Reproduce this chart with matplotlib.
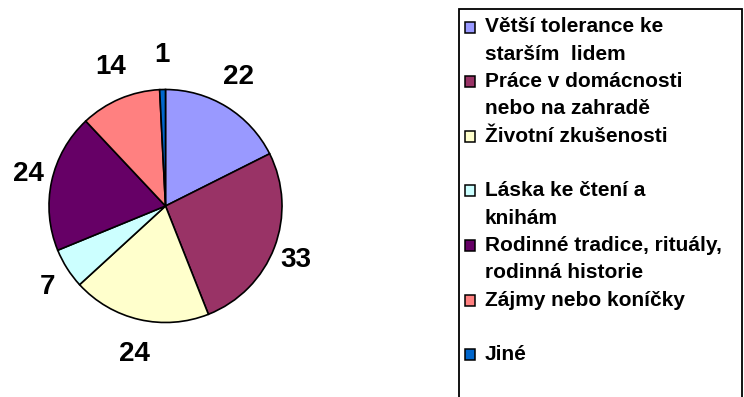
import matplotlib
matplotlib.use("Agg")
import numpy as np
import matplotlib.pyplot as plt
from matplotlib.patches import Rectangle

# Survey answers and their counts
categories = [
    "Větší tolerance ke\nstarším  lidem",
    "Práce v domácnosti\nnebo na zahradě",
    "Životní zkušenosti",
    "Láska ke čtení a\nknihám",
    "Rodinné tradice, rituály,\nrodinná historie",
    "Zájmy nebo koníčky",
    "Jiné",
]
values = [22, 33, 24, 7, 24, 14, 1]
colors = ["#9999FF", "#993366", "#FFFFCC", "#CCFFFF", "#660066", "#FF8080", "#0066CC"]

W, H = 744, 397
fig = plt.figure(figsize=(W / 100, H / 100), dpi=100)
ax = fig.add_axes([0, 0, 1, 1])

font = ["Liberation Sans", "DejaVu Sans"]

# Pie, clockwise from 12 o'clock
cx, cy, r = 165.5, H - 206, 116.5
ax.pie(values, colors=colors, startangle=90, counterclock=False,
       center=(cx, cy), radius=r, frame=True,
       wedgeprops=dict(edgecolor="black", linewidth=1.2))
ax.set_xlim(0, W)
ax.set_ylim(0, H)
ax.set_aspect("equal")
ax.axis("off")

# Value labels around the pie
total = sum(values)
cum = 0
for v in values:
    mid = 90 - (cum + v / 2) / total * 360
    cum += v
    a = np.deg2rad(mid)
    ax.text(cx + 1.2 * r * np.cos(a), cy + 1.3 * r * np.sin(a), str(v),
            ha="center", va="center", fontsize=20, fontweight="bold",
            family=font, color="black")

# Legend box
box_left, box_top, box_right = 459, 9, 742
ax.add_patch(Rectangle((box_left, -5), box_right - box_left, H - box_top + 5,
                       facecolor="white", edgecolor="black", linewidth=1.3,
                       clip_on=False))

line_h = 27.3
y0 = 27
for i, (name, col) in enumerate(zip(categories, colors)):
    y = y0 + 2 * line_h * i
    ax.add_patch(Rectangle((465, H - y - 5.5), 10, 11, facecolor=col,
                           edgecolor="black", linewidth=1.1))
    for j, line in enumerate(name.split("\n")):
        ax.text(485, H - (y + j * line_h), line, ha="left", va="center",
                fontsize=15, fontweight="bold", family=font, color="black",
                clip_on=True)

fig.savefig("out.png", dpi=100)
